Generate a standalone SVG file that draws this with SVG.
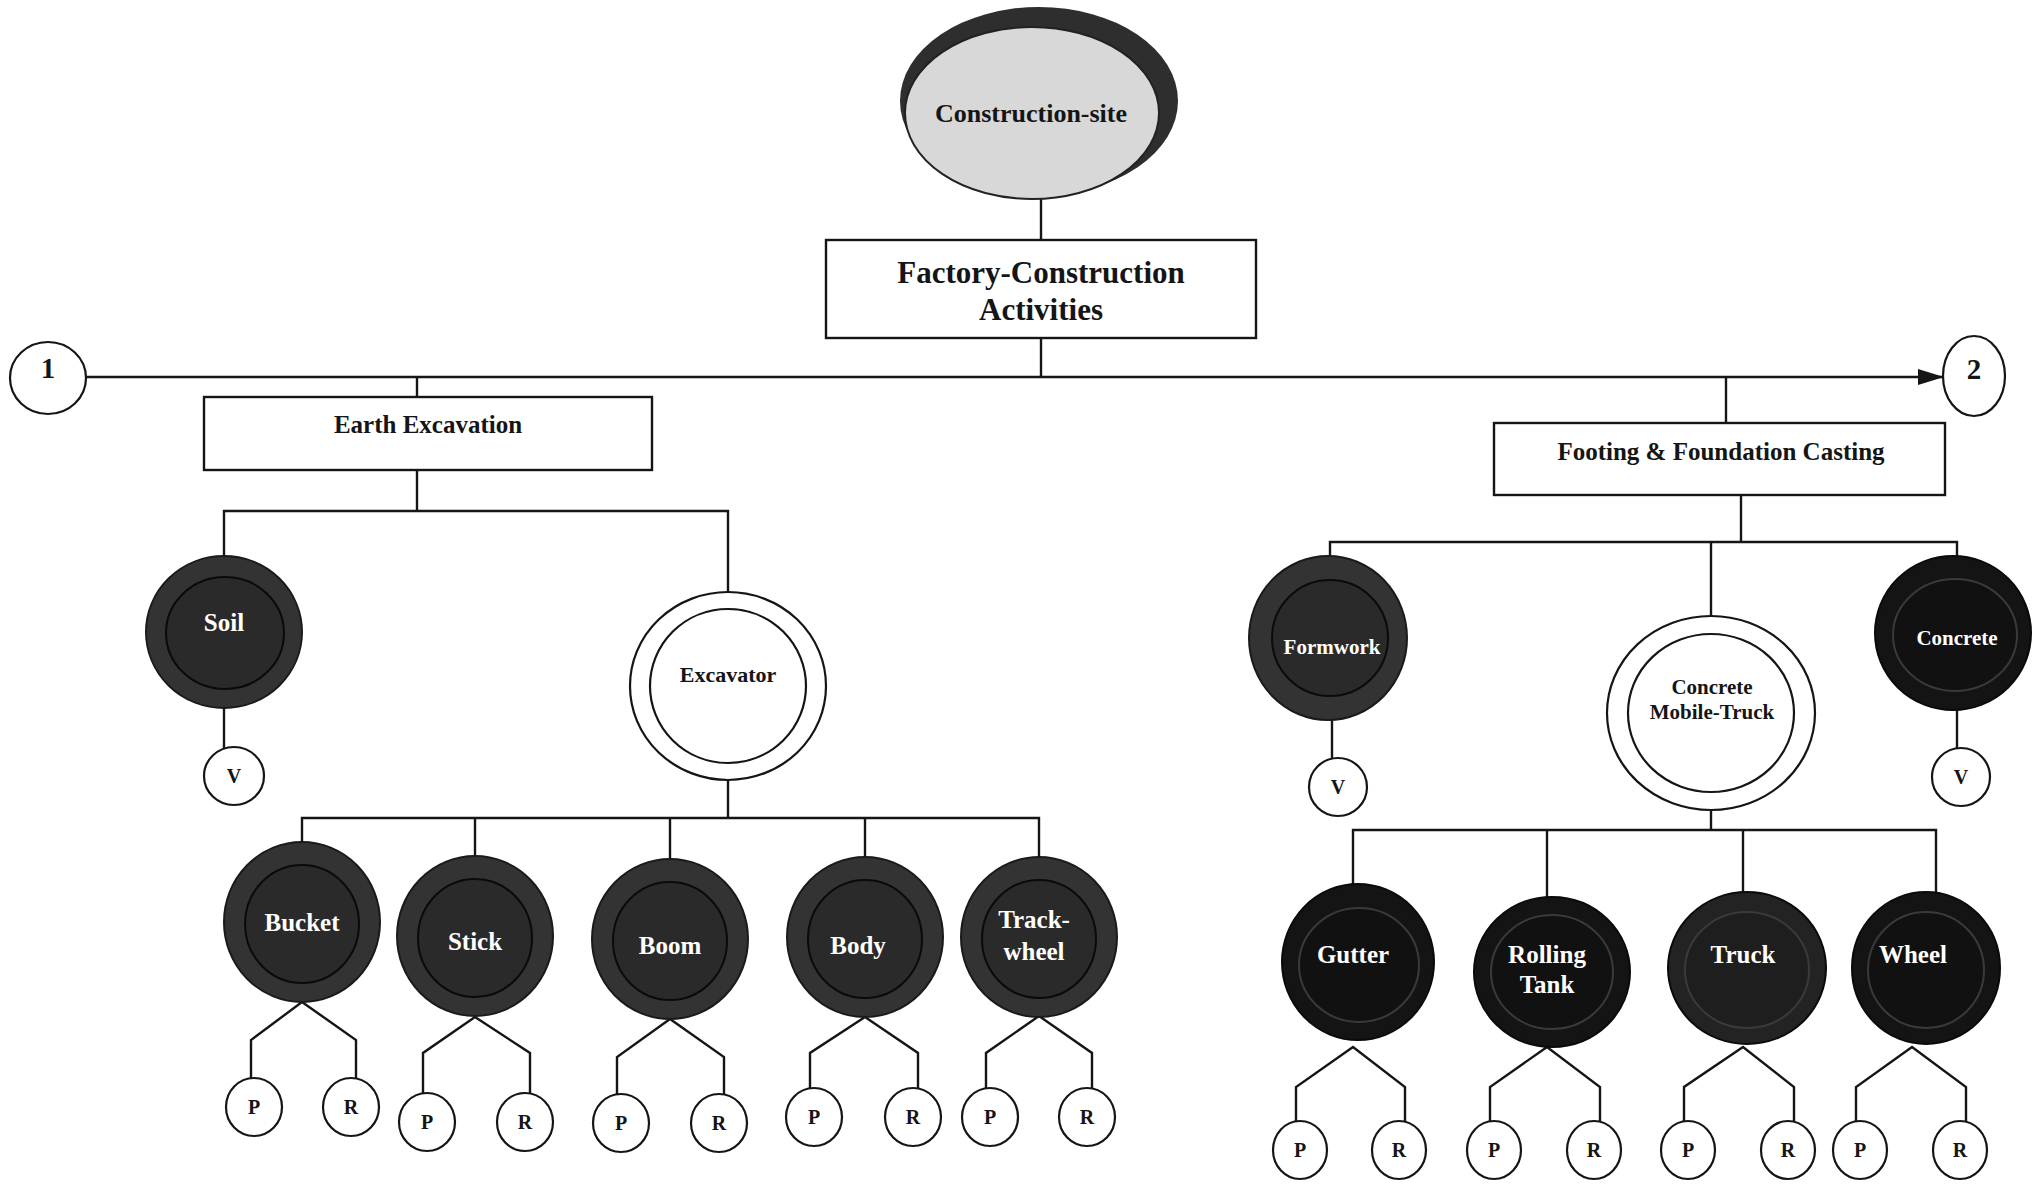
<svg xmlns="http://www.w3.org/2000/svg" width="2044" height="1185" viewBox="0 0 2044 1185">
  <style>
    .ln { stroke: #151515; stroke-width: 2.4; fill: none; }
    .box { fill: #ffffff; stroke: #151515; stroke-width: 2.4; }
    .ring { fill: #ffffff; stroke: #151515; stroke-width: 2.2; }
    .leaf { fill: #ffffff; stroke: #151515; stroke-width: 2.2; }
    .dko { fill: #333333; stroke: #1a1a1a; stroke-width: 2; }
    .dki { fill: #2a2a2a; stroke: #0a0a0a; stroke-width: 2; }
    .bko { fill: #141414; stroke: #0a0a0a; stroke-width: 2; }
    .bki { fill: #111111; stroke: #3a3a3a; stroke-width: 2; }
    .t { font-family: "Liberation Serif", "Times New Roman", serif; font-weight: bold; text-anchor: middle; }
    .w { fill: #ffffff; }
    .k { fill: #151515; }
  </style>
  <defs>
    <marker id="arrow" viewBox="0 0 26 16" refX="26" refY="8" markerWidth="26" markerHeight="16" markerUnits="userSpaceOnUse" orient="auto">
      <polygon points="0,0 26,8 0,16" fill="#151515"/>
    </marker>
  </defs>
  <rect width="2044" height="1185" fill="#ffffff"/>

  <!-- connectors -->
  <g id="connectors" class="ln">
    <path d="M1041,199 V240"/>
    <path d="M1041,338 V377"/>
    <path d="M86,377 H1944" marker-end="url(#arrow)"/>
    <path d="M417,377 V397"/>
    <path d="M1726,377 V423"/>
    <!-- earth excavation branch -->
    <path d="M417,470 V511"/>
    <path d="M224,557 V511 H728 V592"/>
    <path d="M224,708 V748"/>
    <path d="M728,780 V818"/>
    <path d="M302,842 V818 H1039 V858"/>
    <path d="M475,818 V856"/>
    <path d="M670,818 V859"/>
    <path d="M865,818 V858"/>
    <!-- P/R forks, excavator parts -->
    <path d="M251,1078 V1040 L302,1002 L356,1040 V1078"/>
    <path d="M423,1094 V1053 L475,1017 L530,1053 V1094"/>
    <path d="M617,1094 V1057 L670,1019 L724,1057 V1094"/>
    <path d="M810,1089 V1053 L865,1017 L918,1053 V1089"/>
    <path d="M986,1089 V1053 L1039,1016 L1092,1053 V1089"/>
    <!-- footing branch -->
    <path d="M1741,495 V542"/>
    <path d="M1330,555 V542 H1957 V557"/>
    <path d="M1711,542 V617"/>
    <path d="M1332,720 V758"/>
    <path d="M1957,710 V748"/>
    <path d="M1711,807 V830"/>
    <path d="M1353,885 V830 H1936 V892"/>
    <path d="M1547,830 V897"/>
    <path d="M1743,830 V892"/>
    <!-- P/R forks, truck parts -->
    <path d="M1296,1122 V1087 L1353,1047 L1405,1087 V1122"/>
    <path d="M1490,1122 V1087 L1547,1047 L1600,1087 V1122"/>
    <path d="M1684,1122 V1087 L1743,1047 L1794,1087 V1122"/>
    <path d="M1856,1122 V1087 L1912,1047 L1966,1087 V1122"/>
  </g>

  <!-- root -->
  <g id="construction-site">
    <ellipse cx="1039" cy="101" rx="139" ry="94" fill="#2e2e2e"/>
    <ellipse cx="1032" cy="113" rx="127" ry="86" fill="#d8d8d8" stroke="#222" stroke-width="2"/>
    <text class="t k" x="1031" y="122" font-size="26">Construction-site</text>
  </g>

  <g id="factory-construction">
    <rect class="box" x="826" y="240" width="430" height="98"/>
    <text class="t k" x="1041" y="283" font-size="31">Factory-Construction</text>
    <text class="t k" x="1041" y="320" font-size="31">Activities</text>
  </g>

  <g id="link-1">
    <ellipse class="leaf" cx="48" cy="378" rx="38" ry="36"/>
    <text class="t k" x="48" y="378" font-size="29">1</text>
  </g>
  <g id="link-2">
    <ellipse class="leaf" cx="1974" cy="376" rx="31" ry="40"/>
    <text class="t k" x="1974" y="379" font-size="29">2</text>
  </g>

  <!-- Earth Excavation -->
  <g id="earth-excavation">
    <rect class="box" x="204" y="397" width="448" height="73"/>
    <text class="t k" x="428" y="433" font-size="25">Earth Excavation</text>
  </g>

  <g id="soil">
    <ellipse class="dko" cx="224" cy="632" rx="78" ry="76"/>
    <ellipse class="dki" cx="225" cy="633" rx="59" ry="56"/>
    <text class="t w" x="224" y="631" font-size="25">Soil</text>
  </g>
  <g id="soil-v">
    <ellipse class="leaf" cx="234" cy="776" rx="30" ry="29"/>
    <text class="t k" x="234" y="783" font-size="20">V</text>
  </g>

  <g id="excavator">
    <ellipse class="ring" cx="728" cy="686" rx="98" ry="94"/>
    <ellipse class="ring" cx="728" cy="686" rx="78" ry="77"/>
    <text class="t k" x="728" y="682" font-size="22">Excavator</text>
  </g>

  <g id="bucket">
    <ellipse class="dko" cx="302" cy="922" rx="78" ry="80"/>
    <ellipse class="dki" cx="302" cy="924" rx="57" ry="59"/>
    <text class="t w" x="302" y="931" font-size="25">Bucket</text>
  </g>
  <g id="stick">
    <ellipse class="dko" cx="475" cy="936" rx="78" ry="80"/>
    <ellipse class="dki" cx="475" cy="938" rx="57" ry="59"/>
    <text class="t w" x="475" y="950" font-size="25">Stick</text>
  </g>
  <g id="boom">
    <ellipse class="dko" cx="670" cy="939" rx="78" ry="80"/>
    <ellipse class="dki" cx="670" cy="941" rx="57" ry="59"/>
    <text class="t w" x="670" y="954" font-size="25">Boom</text>
  </g>
  <g id="body">
    <ellipse class="dko" cx="865" cy="937" rx="78" ry="80"/>
    <ellipse class="dki" cx="865" cy="939" rx="57" ry="59"/>
    <text class="t w" x="858" y="954" font-size="25">Body</text>
  </g>
  <g id="track-wheel">
    <ellipse class="dko" cx="1039" cy="937" rx="78" ry="80"/>
    <ellipse class="dki" cx="1039" cy="939" rx="57" ry="59"/>
    <text class="t w" x="1034" y="928" font-size="25">Track-</text>
    <text class="t w" x="1034" y="960" font-size="25">wheel</text>
  </g>

  <g id="bucket-p"><ellipse class="leaf" cx="254" cy="1107" rx="28" ry="29"/><text class="t k" x="254" y="1114" font-size="20">P</text></g>
  <g id="bucket-r"><ellipse class="leaf" cx="351" cy="1107" rx="28" ry="29"/><text class="t k" x="351" y="1114" font-size="20">R</text></g>
  <g id="stick-p"><ellipse class="leaf" cx="427" cy="1122" rx="28" ry="29"/><text class="t k" x="427" y="1129" font-size="20">P</text></g>
  <g id="stick-r"><ellipse class="leaf" cx="525" cy="1122" rx="28" ry="29"/><text class="t k" x="525" y="1129" font-size="20">R</text></g>
  <g id="boom-p"><ellipse class="leaf" cx="621" cy="1123" rx="28" ry="29"/><text class="t k" x="621" y="1130" font-size="20">P</text></g>
  <g id="boom-r"><ellipse class="leaf" cx="719" cy="1123" rx="28" ry="29"/><text class="t k" x="719" y="1130" font-size="20">R</text></g>
  <g id="body-p"><ellipse class="leaf" cx="814" cy="1117" rx="28" ry="29"/><text class="t k" x="814" y="1124" font-size="20">P</text></g>
  <g id="body-r"><ellipse class="leaf" cx="913" cy="1117" rx="28" ry="29"/><text class="t k" x="913" y="1124" font-size="20">R</text></g>
  <g id="track-wheel-p"><ellipse class="leaf" cx="990" cy="1117" rx="28" ry="29"/><text class="t k" x="990" y="1124" font-size="20">P</text></g>
  <g id="track-wheel-r"><ellipse class="leaf" cx="1087" cy="1117" rx="28" ry="29"/><text class="t k" x="1087" y="1124" font-size="20">R</text></g>

  <!-- Footing & Foundation Casting -->
  <g id="footing-foundation">
    <rect class="box" x="1494" y="423" width="451" height="72"/>
    <text class="t k" x="1721" y="460" font-size="25">Footing &amp; Foundation Casting</text>
  </g>

  <g id="formwork">
    <ellipse class="dko" cx="1328" cy="638" rx="79" ry="82"/>
    <ellipse class="dki" cx="1330" cy="638" rx="58" ry="58"/>
    <text class="t w" x="1332" y="654" font-size="21">Formwork</text>
  </g>
  <g id="formwork-v">
    <ellipse class="leaf" cx="1338" cy="787" rx="29" ry="29"/>
    <text class="t k" x="1338" y="794" font-size="20">V</text>
  </g>

  <g id="concrete-mobile-truck">
    <ellipse class="ring" cx="1711" cy="713" rx="104" ry="97"/>
    <ellipse class="ring" cx="1711" cy="713" rx="83" ry="79"/>
    <text class="t k" x="1712" y="694" font-size="21">Concrete</text>
    <text class="t k" x="1712" y="719" font-size="21">Mobile-Truck</text>
  </g>

  <g id="concrete">
    <ellipse class="bko" cx="1953" cy="633" rx="78" ry="77"/>
    <ellipse class="bki" cx="1955" cy="635" rx="62" ry="56"/>
    <text class="t w" x="1957" y="645" font-size="21">Concrete</text>
  </g>
  <g id="concrete-v">
    <ellipse class="leaf" cx="1961" cy="777" rx="29" ry="29"/>
    <text class="t k" x="1961" y="784" font-size="20">V</text>
  </g>

  <g id="gutter">
    <ellipse class="bko" cx="1358" cy="962" rx="76" ry="78"/>
    <ellipse class="bki" cx="1359" cy="965" rx="60" ry="57"/>
    <text class="t w" x="1353" y="963" font-size="25">Gutter</text>
  </g>
  <g id="rolling-tank">
    <ellipse class="bko" cx="1552" cy="972" rx="78" ry="75"/>
    <ellipse class="bki" cx="1552" cy="972" rx="61" ry="57"/>
    <text class="t w" x="1547" y="963" font-size="25">Rolling</text>
    <text class="t w" x="1547" y="993" font-size="25">Tank</text>
  </g>
  <g id="truck">
    <ellipse class="bko" cx="1747" cy="968" rx="79" ry="76" style="fill:#232323"/>
    <ellipse class="bki" cx="1747" cy="970" rx="62" ry="58" style="fill:#1e1e1e"/>
    <text class="t w" x="1743" y="963" font-size="25">Truck</text>
  </g>
  <g id="wheel">
    <ellipse class="bko" cx="1926" cy="968" rx="74" ry="76"/>
    <ellipse class="bki" cx="1926" cy="970" rx="58" ry="58"/>
    <text class="t w" x="1913" y="963" font-size="25">Wheel</text>
  </g>

  <g id="gutter-p"><ellipse class="leaf" cx="1300" cy="1150" rx="27" ry="29"/><text class="t k" x="1300" y="1157" font-size="20">P</text></g>
  <g id="gutter-r"><ellipse class="leaf" cx="1399" cy="1150" rx="27" ry="29"/><text class="t k" x="1399" y="1157" font-size="20">R</text></g>
  <g id="rolling-tank-p"><ellipse class="leaf" cx="1494" cy="1150" rx="27" ry="29"/><text class="t k" x="1494" y="1157" font-size="20">P</text></g>
  <g id="rolling-tank-r"><ellipse class="leaf" cx="1594" cy="1150" rx="27" ry="29"/><text class="t k" x="1594" y="1157" font-size="20">R</text></g>
  <g id="truck-p"><ellipse class="leaf" cx="1688" cy="1150" rx="27" ry="29"/><text class="t k" x="1688" y="1157" font-size="20">P</text></g>
  <g id="truck-r"><ellipse class="leaf" cx="1788" cy="1150" rx="27" ry="29"/><text class="t k" x="1788" y="1157" font-size="20">R</text></g>
  <g id="wheel-p"><ellipse class="leaf" cx="1860" cy="1150" rx="27" ry="29"/><text class="t k" x="1860" y="1157" font-size="20">P</text></g>
  <g id="wheel-r"><ellipse class="leaf" cx="1960" cy="1150" rx="27" ry="29"/><text class="t k" x="1960" y="1157" font-size="20">R</text></g>
</svg>
